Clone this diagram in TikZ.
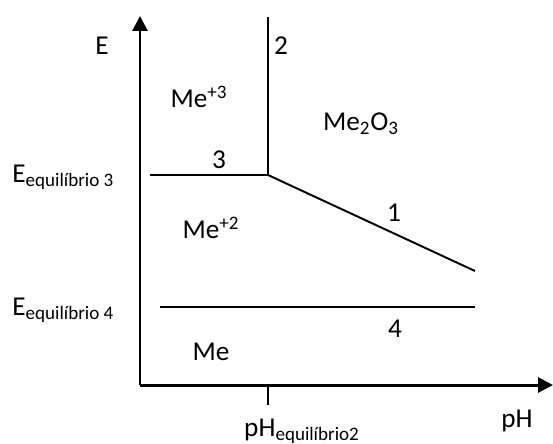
\documentclass[tikz,border=0pt]{standalone}
\usepackage{fontspec}
\setmainfont{Carlito}
\usetikzlibrary{arrows.meta}

\begin{document}
\begin{tikzpicture}[x=0.02cm, y=-0.02cm,
  lbl/.style={font=\fontsize{15.5}{18}\selectfont, inner sep=0pt},
  bnd/.style={line width=1.1pt},
  axis/.style={-{Triangle[length=8.5pt,width=8.5pt]}, line width=1.7pt}
]
  \useasboundingbox (0,0) rectangle (553,443);
  % axes
  \coordinate (O) at (140,385);
  \coordinate (ytop) at (140,16);
  \coordinate (xend) at (553,385);
  \draw[axis] (O) -- (ytop);
  \draw[axis] (O) -- (xend);
  % boundary lines
  \coordinate (J) at (268,175);
  \coordinate (top2) at (268,17);
  \coordinate (l3) at (150,175);
  \coordinate (r1) at (475,271);
  \coordinate (l4) at (160,307);
  \coordinate (r4) at (475,307);
  \coordinate (tick) at (268,385);
  \coordinate (tickend) at (268,405);
  \draw[bnd] (J) -- (top2);
  \draw[bnd] (l3) -- (J);
  \draw[bnd] (J) -- (r1);
  \draw[bnd] (l4) -- (r4);
  \draw[bnd] (tick) -- (tickend);
  % labels
  \node[lbl] (eaxis) at (102,46) {E};
  \node[lbl] (n2) at (281,46) {2};
  \node[lbl] (me3) at (199,97) {Me\textsuperscript{+3}};
  \node[lbl] (oxide) at (361,124) {Me\textsubscript{2}O\textsubscript{3}};
  \node[lbl] (n3) at (219,160) {3};
  \node[lbl] (n1) at (394,213) {1};
  \node[lbl] (me2) at (211,228) {Me\textsuperscript{+2}};
  \node[lbl] (n4) at (395,329) {4};
  \node[lbl] (me) at (211,352) {Me};
  \node[lbl, anchor=base west] (eq3) at (12,182) {E\textsubscript{equilíbrio 3}};
  \node[lbl, anchor=base west] (eq4) at (12,315) {E\textsubscript{equilíbrio 4}};
  \node[lbl, anchor=base] (pheq) at (302,436) {pH\textsubscript{equilíbrio2}};
  \node[lbl, anchor=base] (ph) at (517,427) {pH};
\end{tikzpicture}
\end{document}
